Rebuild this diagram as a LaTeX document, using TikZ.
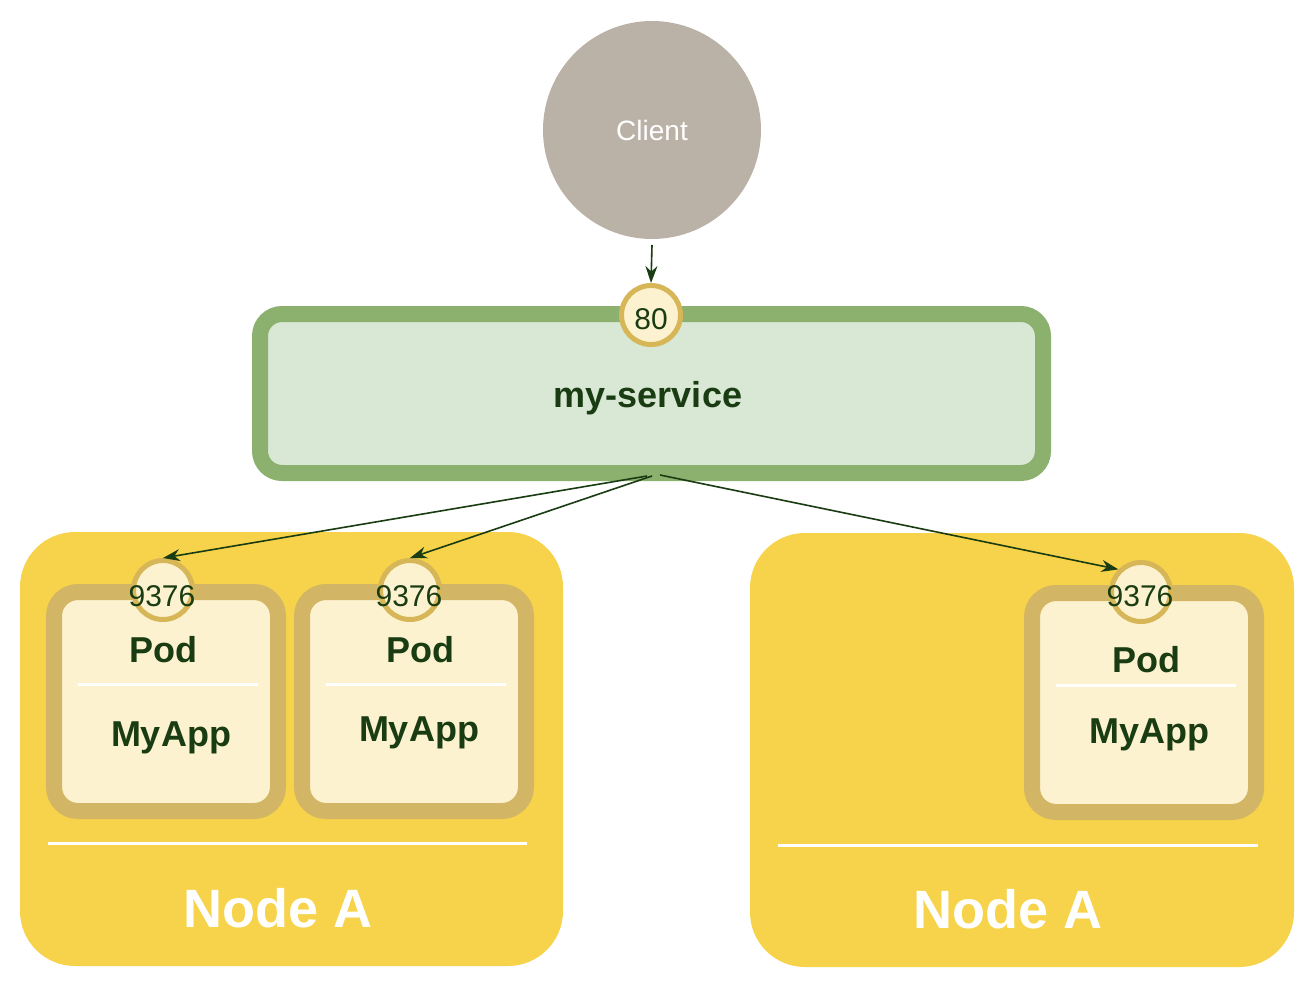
\documentclass[tikz,border=0pt]{standalone}
\usepackage{fontspec}
\setmainfont{Liberation Sans}
\usetikzlibrary{arrows.meta}
\definecolor{nodey}{HTML}{F6D34A}
\definecolor{podst}{HTML}{D3B665}
\definecolor{podfill}{HTML}{FDF2D0}
\definecolor{portst}{HTML}{D6B656}
\definecolor{svcst}{HTML}{8CB06E}
\definecolor{svcfill}{HTML}{D9E7D5}
\definecolor{clientc}{HTML}{BBB2A7}
\definecolor{dgreen}{HTML}{1A3C12}
\tikzset{
  hostbox/.style={fill=nodey, draw=none, rounded corners=55pt},
  podbox/.style={fill=podfill, draw=podst, line width=16pt, rounded corners=24pt},
  port/.style={circle, fill=podfill, draw=portst, line width=5pt, minimum size=59pt, inner sep=0pt},
  sep/.style={draw=white, line width=3pt},
  lbl/.style={text=dgreen, font=\bfseries\fontsize{36}{40}\selectfont, inner sep=0pt},
  hostlbl/.style={text=white, font=\bfseries\fontsize{54}{60}\selectfont, inner sep=0pt},
  portlbl/.style={text=dgreen, font=\fontsize{30}{34}\selectfont, inner sep=0pt},
  conn/.style={draw=dgreen, line width=1.6pt, -{Stealth[length=17pt,width=12pt]}}
}
\begin{document}
\begin{tikzpicture}[x=1pt,y=-1pt]
\useasboundingbox (0,0) rectangle (1316,982);
\fill[white] (0,0) rectangle (1316,982);
% hosts
\path[hostbox] (20,532) rectangle (563,966);
\path[hostbox] (750,533) rectangle (1294,967);
\draw[sep] (48,843) -- (527,843);
\draw[sep] (778,845) -- (1258,845);
\node[hostlbl] (hostA) at (278,908) {Node A};
\node[hostlbl] (hostB) at (1008,909) {Node A};
% client
\node[circle, fill=clientc, minimum size=218pt, inner sep=0pt] (client) at (652,130) {};
\node[text=white, font=\fontsize{28}{32}\selectfont] (clientlbl) at (652,130) {Client};
% service
\draw[fill=svcfill, draw=svcst, line width=16pt, rounded corners=22pt] (260,314) rectangle (1043,473);
\node[lbl] (svc) at (648,398) {my-service};
\coordinate (svcbot) at (652,476);
\coordinate (svcbotL) at (647,476);
\coordinate (svcbotR) at (660,475);
\node[port] (p80) at (651,315) {};
\node[portlbl] at (651,319) {80};
% pods
\draw[podbox] (54,592) rectangle (278,811);
\draw[podbox] (302,592) rectangle (526,811);
\draw[podbox] (1032,593) rectangle (1256,812);
\draw[sep] (78,684) -- (258,684);
\draw[sep] (326,684) -- (506,684);
\draw[sep] (1056,685) -- (1236,685);
\node[lbl] (pod1) at (163,650) {Pod};
\node[lbl] (app1) at (171,738) {MyApp};
\node[lbl] (pod2) at (420,650) {Pod};
\node[lbl] (app2) at (419,733) {MyApp};
\node[lbl] (pod3) at (1146,660) {Pod};
\node[lbl] (app3) at (1149,735) {MyApp};
\node[port] (q1) at (163,590) {};
\node[port] (q2) at (410,590) {};
\node[port] (q3) at (1141,592) {};
\node[portlbl] at (162,596) {9376};
\node[portlbl] at (409,596) {9376};
\node[portlbl] at (1140,596) {9376};
% connectors
\coordinate (cbot) at (652,245);
\draw[conn] (cbot) -- (p80.north);
\draw[conn] (svcbotL) -- (q1.north);
\draw[conn] (svcbot) -- (q2.north);
\draw[conn] (svcbotR) -- (q3.135);
\end{tikzpicture}
\end{document}
